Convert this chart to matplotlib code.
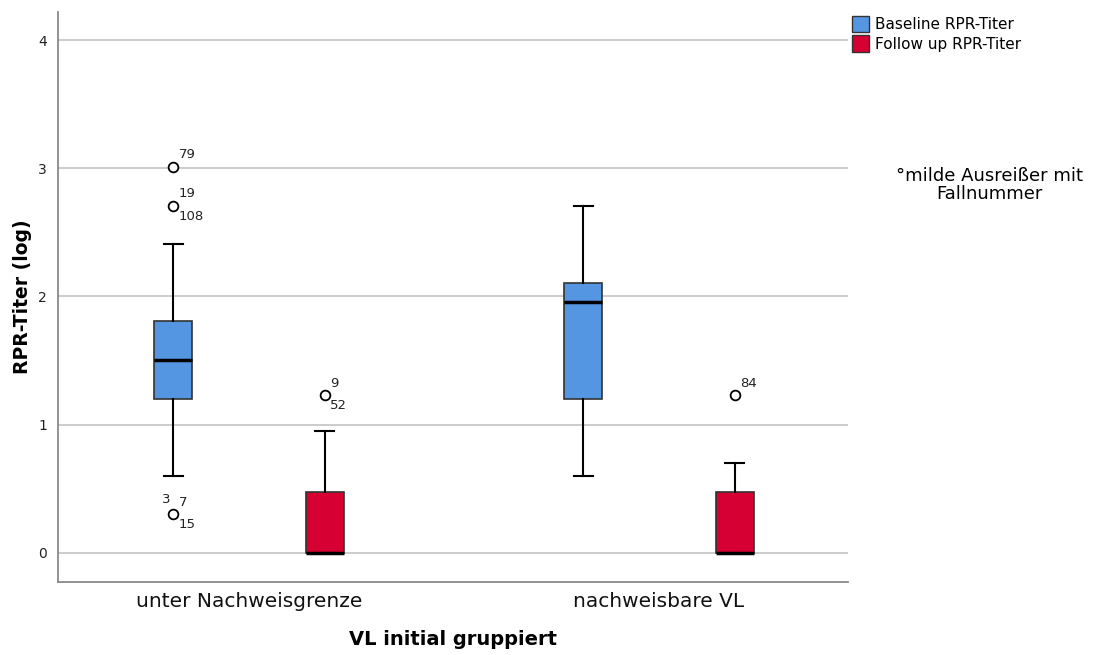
"""SPSS-style grouped boxplot of RPR titers (log) by initial VL group."""

import matplotlib

matplotlib.use("Agg")
import matplotlib.pyplot as plt
from matplotlib.patches import Patch

# Data (log10 RPR titer)
GROUPS = ["unter Nachweisgrenze", "nachweisbare VL"]
SERIES = ["Baseline RPR-Titer", "Follow up RPR-Titer"]

# per group: [baseline, follow up]
WHISKER_LOW = [[0.602, 0.0], [0.602, 0.0]]
Q1 = [[1.204, 0.0], [1.204, 0.0]]
MEDIAN = [[1.505, 0.0], [1.954, 0.0]]
Q3 = [[1.806, 0.477], [2.107, 0.477]]
WHISKER_HIGH = [[2.408, 0.954], [2.709, 0.699]]

# mild outliers: (value, case numbers)
OUTLIERS = [
    [[(3.01, "79"), (2.709, "19/108"), (0.301, "3,7/15")], [(1.23, "9/52")]],
    [[], [(1.23, "84")]],
]

COLORS = ["#5596e3", "#d70032"]
GRID_COLOR = "#c8c8c8"
SPINE_COLOR = "#8a8a8a"

OFFSET = 0.185
BOX_WIDTH = 0.093
LABEL_SIZE = 9.5

fig = plt.figure(figsize=(10.96, 6.55), dpi=100)
ax = fig.add_axes([0.0529, 0.1115, 0.7208, 0.8703])

for gi in range(len(GROUPS)):
    for si in range(len(SERIES)):
        pos = gi + (si - 0.5) * 2 * OFFSET
        stats = [
            {
                "whislo": WHISKER_LOW[gi][si],
                "q1": Q1[gi][si],
                "med": MEDIAN[gi][si],
                "q3": Q3[gi][si],
                "whishi": WHISKER_HIGH[gi][si],
                "fliers": [v for v, _ in OUTLIERS[gi][si]],
            }
        ]
        ax.bxp(
            stats,
            positions=[pos],
            widths=BOX_WIDTH,
            patch_artist=True,
            showcaps=True,
            boxprops=dict(facecolor=COLORS[si], edgecolor="#333333", linewidth=1.2),
            medianprops=dict(color="black", linewidth=2.5),
            whiskerprops=dict(color="black", linewidth=1.5),
            capprops=dict(color="black", linewidth=1.5),
            capwidths=BOX_WIDTH * 0.5,
            flierprops=dict(
                marker="o",
                markersize=7,
                markerfacecolor="white",
                markeredgecolor="black",
                markeredgewidth=1.3,
            ),
            zorder=3,
        )
        # case number labels next to outliers
        for val, label in OUTLIERS[gi][si]:
            parts = label.split("/")
            top = parts[0]
            if "," in top:
                left, right = top.split(",")
                ax.annotate(left, (pos, val), xytext=(-8, 6), textcoords="offset points",
                            fontsize=LABEL_SIZE, ha="left", va="bottom", color="#222222")
                ax.annotate(right, (pos, val), xytext=(4, 4), textcoords="offset points",
                            fontsize=LABEL_SIZE, ha="left", va="bottom", color="#222222")
            else:
                ax.annotate(top, (pos, val), xytext=(4, 4), textcoords="offset points",
                            fontsize=LABEL_SIZE, ha="left", va="bottom", color="#222222")
            if len(parts) > 1:
                ax.annotate(parts[1], (pos, val), xytext=(4, -3), textcoords="offset points",
                            fontsize=LABEL_SIZE, ha="left", va="top", color="#222222")

ax.set_xlim(-0.466, 1.461)
ax.set_ylim(-0.227, 4.22)
ax.set_yticks([0, 1, 2, 3, 4])
ax.set_xticks(range(len(GROUPS)))
ax.set_xticklabels(GROUPS, fontsize=14.5)
ax.tick_params(axis="y", length=0, labelsize=10, pad=8, colors="#222222")
ax.tick_params(axis="x", length=0, pad=7, colors="#111111")
ax.yaxis.grid(True, color=GRID_COLOR, linewidth=1.3)
ax.set_axisbelow(True)

for side in ["top", "right"]:
    ax.spines[side].set_visible(False)
for side in ["left", "bottom"]:
    ax.spines[side].set_color(SPINE_COLOR)
    ax.spines[side].set_linewidth(1.3)

ax.set_xlabel("VL initial gruppiert", fontsize=14, fontweight="bold", labelpad=14)
ax.set_ylabel("RPR-Titer (log)", fontsize=13.5, fontweight="bold", labelpad=4)

handles = [Patch(facecolor=c, edgecolor="#333333", label=s) for c, s in zip(COLORS, SERIES)]
fig.legend(
    handles=handles,
    loc="upper left",
    bbox_to_anchor=(0.765, 0.997),
    frameon=False,
    fontsize=11,
    handlelength=1.1,
    handleheight=1.3,
    handletextpad=0.4,
    labelspacing=0.2,
)

fig.text(0.903, 0.717, "°milde Ausreißer mit\nFallnummer", ha="center", va="center",
         fontsize=13, linespacing=1.0)

fig.savefig("out.png", dpi=100)
